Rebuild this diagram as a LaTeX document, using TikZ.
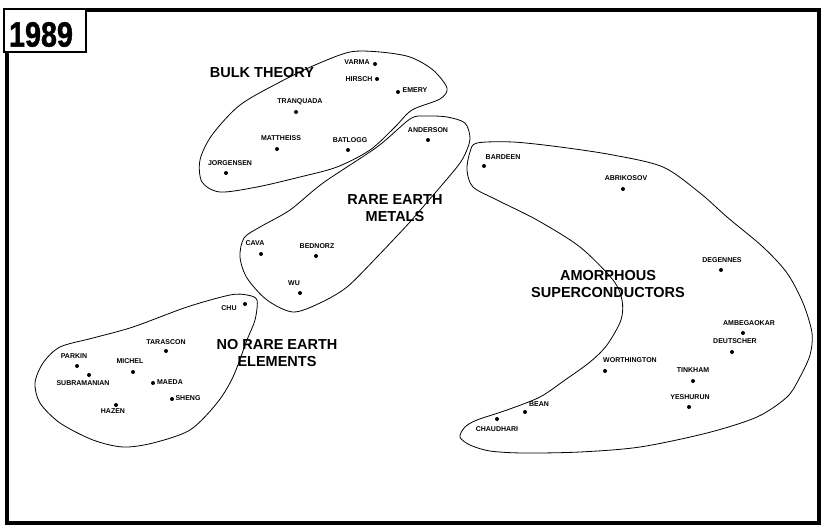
\documentclass[tikz,border=0pt]{standalone}
\usepackage{fontspec}
\setmainfont{Liberation Sans}
\newfontfamily\yearfont[FakeBold=1.5]{Liberation Sans Bold}

\begin{document}
\begin{tikzpicture}[x=1pt,y=-1pt,
    dot/.style={circle,fill=black,inner sep=0pt,minimum size=4pt},
    who/.style={font=\fontsize{7}{8}\selectfont\bfseries,inner sep=0pt},
    field/.style={font=\fontsize{14.5}{17}\selectfont\bfseries,align=center,inner sep=0pt},
    blob/.style={line width=.8pt}]
    \useasboundingbox (0,0) rectangle (825,525);
    \draw [line width=3.2pt] (7,10) rectangle (819,523);
    \node [draw,line width=2.4pt,fill=white,minimum width=82pt,minimum height=43pt] (yearbox) at (45,30.5) {};
    \node [font=\fontsize{35}{35}\yearfont,inner sep=0pt] (year) at (41,34.5) {\scalebox{.82}[1]{1989}};
    % clusters
    \draw [blob] plot [smooth cycle] coordinates {(350,52) (380,52) (410,57) (433,70) (447,88) (440,99) (412,110) (395,127) (370,150) (337,167) (300,177) (257,187) (220,192) (202,182) (200,160) (212,135) (240,105) (280,82) (315,65)};
    \draw [blob] plot [smooth cycle] coordinates {(410,119) (425,116) (447,117) (465,123) (470,138) (466,152) (457,167) (423,207) (410,222) (377,257) (347,287) (320,303) (293,312) (267,300) (247,278) (240,257) (244,238) (260,227) (290,210) (323,183) (377,147)};
    \draw [blob] plot [smooth cycle] coordinates {(257,300) (247,295) (230,295) (187,307) (133,327) (93,338) (60,347) (43,363) (35,383) (40,403) (60,423) (93,440) (123,447) (153,443) (190,430) (217,403) (233,377) (247,340) (255,320)};
    \draw [blob] plot [smooth cycle] coordinates {(477,143) (513,142) (560,147) (613,155) (663,167) (700,193) (727,217) (763,247) (787,273) (803,303) (812,333) (810,355) (800,377) (787,397) (757,417) (707,433) (640,447) (580,452) (523,453) (490,451) (470,445) (460,437) (465,427) (477,420) (507,410) (540,397) (565,380) (590,362) (607,345) (621,320) (622,300) (613,280) (580,247) (537,220) (497,200) (473,187) (467,170) (470,152)};
    % cluster names
    \node [field] (bulk) at (262,72.5) {BULK THEORY};
    \node [field] (rare) at (395,208.5) {RARE EARTH\\METALS};
    \node [field] (amorph) at (608,284.5) {AMORPHOUS\\SUPERCONDUCTORS};
    \node [field] (norare) at (277,353.5) {NO RARE EARTH\\ELEMENTS};
    % authors
    \foreach \p/\dx/\dy/\lx/\ly/\txt in {
        varma/375/64/357/62/VARMA, hirsch/377/79/359/79/HIRSCH, emery/398/92/415/90/EMERY,
        tranquada/296/112/300/102/TRANQUADA, mattheiss/277/149/281/138/MATTHEISS,
        batlogg/348/150/350/140/BATLOGG, jorgensen/226/173/230/163/JORGENSEN,
        anderson/428/140/428/130/ANDERSON, bardeen/484/166/503/157/BARDEEN,
        abrikosov/623/189/626/178/ABRIKOSOV, cava/261/254/255/243/CAVA,
        bednorz/316/256/317/246/BEDNORZ, wu/300/293/294/283/WU, chu/245/304/229/308/CHU,
        tarascon/166/351/166/342/TARASCON, parkin/77/366/74/356/PARKIN,
        subramanian/89/375/83/383/SUBRAMANIAN, michel/133/372/130/361/MICHEL,
        maeda/153/383/170/382/MAEDA, sheng/172/399/188/398/SHENG, hazen/116/405/113/411/HAZEN,
        degennes/721/270/722/260/DEGENNES, ambegaokar/743/333/749/323/AMBEGAOKAR,
        deutscher/732/352/735/341/DEUTSCHER, worthington/605/371/630/360/WORTHINGTON,
        tinkham/693/381/693/370/TINKHAM, yeshurun/689/407/690/397/YESHURUN,
        bean/525/412/539/404/BEAN, chaudhari/497/419/497/429/CHAUDHARI}
    {
        \node [dot] (\p) at (\dx,\dy) {};
        \node [who] (\p-name) at (\lx,\ly) {\txt};
    }
\end{tikzpicture}
\end{document}
